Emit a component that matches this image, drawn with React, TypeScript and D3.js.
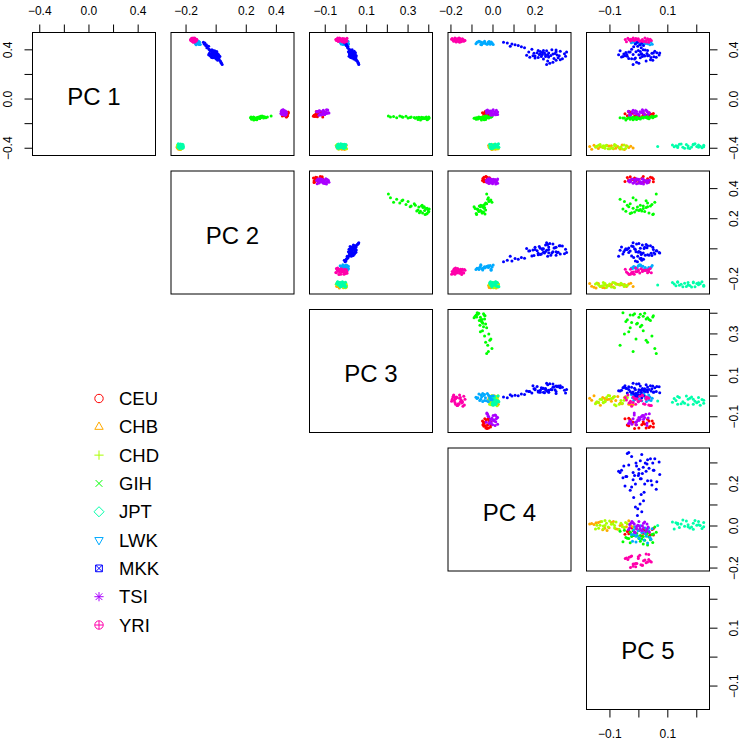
import React from "react";
import * as d3 from "d3";

// ---------- data ----------
const POPS = ["CEU", "CHB", "CHD", "GIH", "JPT", "LWK", "MKK", "TSI", "YRI"];
const COLORS = ["#FF0000", "#FFAA00", "#AAFF00", "#00FF00", "#00FFAA", "#00AAFF", "#0000FF", "#AA00FF", "#FF00AA"];
const VAR_LABELS = ["PC 1", "PC 2", "PC 3", "PC 4", "PC 5"];
const DOMAINS: [number, number][] = [
  [-0.459, 0.541],
  [-0.3, 0.517],
  [-0.176, 0.418],
  [-0.214, 0.371],
  [-0.181, 0.244],
];
const TICKS = [
  [-0.4, -0.2, 0, 0.2, 0.4],
  [-0.2, 0, 0.2, 0.4],
  [-0.1, 0, 0.1, 0.2, 0.3, 0.4],
  [-0.2, -0.1, 0, 0.1, 0.2, 0.3],
  [-0.1, 0, 0.1, 0.2],
];
const TOP_LABELS = [
  [-0.4, 0, 0.4],
  [-0.2, 0.2, 0.4],
  [-0.1, 0.1, 0.3],
  [-0.2, 0, 0.2],
  [-0.1, 0.1],
];
const RIGHT_LABELS = [
  [-0.4, 0, 0.4],
  [-0.2, 0.2, 0.4],
  [-0.1, 0.1, 0.3],
  [-0.2, 0, 0.2],
  [-0.1, 0.1],
];

// each row: [PC1, PC2, PC3, PC4, PC5]
const CEU = [
  [-0.144, 0.468, -0.138, -0.048, 0.01], [-0.113, 0.462, -0.124, -0.01, -0.025], [-0.131, 0.45, -0.154, -0.034, 0.025],
  [-0.104, 0.458, -0.107, -0.021, -0.035], [-0.122, 0.476, -0.146, -0.043, 0.04], [-0.139, 0.47, -0.157, -0.028, -0.015],
  [-0.128, 0.442, -0.132, -0.015, 0.015], [-0.111, 0.454, -0.121, -0.05, 0.035], [-0.135, 0.474, -0.14, -0.026, -0.04],
  [-0.12, 0.448, -0.11, -0.039, -0.048], [-0.142, 0.464, -0.149, -0.012, 0.05], [-0.106, 0.478, -0.115, -0.032, -0.03],
  [-0.126, 0.452, -0.135, -0.019, 0.02], [-0.115, 0.46, -0.126, -0.045, -0.02], [-0.133, 0.444, -0.152, -0.03, 0.035],
  [-0.124, 0.472, -0.121, -0.017, 0.046], [-0.102, 0.456, -0.143, -0.037, -0.035], [-0.146, 0.466, -0.112, -0.023, 0.03],
  [-0.117, 0.446, -0.132, -0.043, 0.05], [-0.133, 0.45, -0.138, -0.01, -0.01], [-0.111, 0.48, -0.124, -0.034, 0.015],
  [-0.137, 0.44, -0.154, -0.021, 0.0],
];
const CHB = [
  [-0.38, -0.251, -0.01, -0.003, -0.043], [-0.402, -0.231, -0.03, 0.017, -0.14], [-0.386, -0.235, -0.002, -0.016, -0.073],
  [-0.408, -0.248, -0.02, 0.012, -0.163], [-0.374, -0.239, -0.037, 0.005, -0.058], [-0.396, -0.258, -0.012, -0.011, -0.118],
  [-0.384, -0.228, -0.042, 0.0, -0.028], [-0.404, -0.253, -0.005, 0.022, -0.088], [-0.39, -0.26, -0.032, 0.015, -0.148],
  [-0.378, -0.244, -0.017, -0.021, -0.11], [-0.41, -0.237, -0.007, -0.006, -0.05], [-0.388, -0.249, -0.045, 0.02, -0.133],
  [-0.4, -0.23, -0.022, -0.013, -0.08], [-0.376, -0.255, 0.001, 0.007, -0.155], [-0.394, -0.233, -0.04, 0.025, -0.035],
  [-0.382, -0.246, -0.015, -0.008, -0.103], [-0.406, -0.24, -0.035, 0.002, -0.065], [-0.392, -0.257, -0.007, -0.018, -0.125],
  [-0.38, -0.237, -0.025, 0.017, -0.095], [-0.398, -0.251, -0.042, -0.003, -0.02], [-0.386, -0.231, -0.01, 0.01, -0.17],
];
const CHD = [
  [-0.4, -0.224, -0.01, 0.011, -0.09], [-0.38, -0.244, -0.03, -0.014, -0.123], [-0.404, -0.233, 0.001, 0.024, -0.101],
  [-0.374, -0.251, -0.02, -0.007, -0.051], [-0.396, -0.238, -0.04, -0.016, -0.068], [-0.384, -0.227, -0.027, 0.004, -0.145],
  [-0.376, -0.256, -0.007, 0.013, -0.112], [-0.406, -0.236, -0.035, -0.003, -0.057], [-0.388, -0.247, -0.017, 0.022, -0.128],
  [-0.37, -0.226, -0.042, -0.009, -0.084], [-0.402, -0.242, -0.002, 0.017, -0.046], [-0.382, -0.231, -0.025, 0.002, -0.117],
  [-0.398, -0.253, -0.012, 0.008, -0.095], [-0.376, -0.24, -0.032, -0.011, -0.139], [-0.39, -0.229, -0.022, 0.013, -0.062],
  [-0.404, -0.245, 0.003, -0.005, -0.106], [-0.378, -0.235, -0.047, 0.019, -0.079], [-0.37, -0.251, -0.015, 0.004, -0.134],
  [-0.394, -0.224, -0.032, 0.0, -0.123], [-0.384, -0.244, -0.007, 0.011, -0.04], [-0.39, -0.233, -0.037, -0.014, -0.15],
  [-0.38, -0.258, -0.002, 0.002, -0.084], [-0.4, -0.238, -0.027, 0.026, -0.117],
];
const GIH = [
  [-0.158, 0.255, 0.38, -0.06, 0.0], [-0.15, 0.275, 0.372, -0.04, 0.025], [-0.165, 0.235, 0.392, -0.08, -0.03],
  [-0.148, 0.285, 0.365, -0.065, 0.04], [-0.16, 0.245, 0.398, -0.045, -0.015], [-0.155, 0.268, 0.385, -0.085, 0.015],
  [-0.17, 0.25, 0.36, -0.055, -0.045], [-0.145, 0.232, 0.388, -0.038, 0.05], [-0.162, 0.262, 0.395, -0.072, 0.005],
  [-0.152, 0.24, 0.355, -0.05, -0.025], [-0.157, 0.28, 0.378, -0.09, 0.03], [-0.166, 0.258, 0.348, -0.035, -0.008],
  [-0.147, 0.248, 0.4, -0.068, 0.02], [-0.159, 0.29, 0.368, -0.058, -0.04], [-0.153, 0.228, 0.382, -0.078, 0.048],
  [-0.168, 0.27, 0.392, -0.042, -0.02], [-0.151, 0.252, 0.342, -0.062, 0.01], [-0.161, 0.238, 0.37, -0.052, 0.035],
  [-0.154, 0.265, 0.402, -0.075, -0.055], [-0.149, 0.278, 0.352, -0.048, -0.005], [-0.15, 0.3, 0.33, -0.03, -0.03],
  [-0.145, 0.285, 0.315, -0.05, 0.015], [-0.155, 0.315, 0.3, -0.02, -0.05], [-0.14, 0.295, 0.29, -0.04, 0.045],
  [-0.148, 0.325, 0.275, -0.01, -0.01], [-0.138, 0.305, 0.26, -0.035, 0.03], [-0.152, 0.33, 0.245, -0.025, -0.065],
  [-0.142, 0.31, 0.23, -0.005, 0.055], [-0.146, 0.34, 0.215, -0.022, -0.02], [-0.137, 0.365, 0.205, -0.03, 0.06],
  [-0.156, 0.29, 0.335, -0.045, 0.005], [-0.143, 0.32, 0.27, -0.015, 0.025], [-0.15, 0.28, 0.31, -0.06, -0.035],
];
const JPT = [
  [-0.381, -0.24, -0.015, 0.006, 0.17], [-0.392, -0.226, -0.027, 0.021, 0.206], [-0.368, -0.242, -0.007, -0.007, 0.14],
  [-0.372, -0.22, -0.04, 0.013, 0.188], [-0.387, -0.234, -0.012, -0.014, 0.122], [-0.376, -0.248, -0.02, 0.017, 0.224],
  [-0.401, -0.228, -0.035, -0.001, 0.158], [-0.363, -0.252, -0.025, 0.026, 0.194], [-0.394, -0.222, -0.002, 0.008, 0.134],
  [-0.403, -0.244, -0.01, -0.009, 0.176], [-0.383, -0.232, -0.045, 0.002, 0.212], [-0.374, -0.224, -0.03, 0.019, 0.116],
  [-0.39, -0.254, -0.005, -0.005, 0.182], [-0.365, -0.236, -0.037, 0.01, 0.146], [-0.396, -0.218, -0.017, -0.012, 0.218],
  [-0.37, -0.25, 0.0, 0.024, 0.164], [-0.385, -0.23, -0.032, 0.004, 0.2], [-0.379, -0.246, -0.022, 0.015, 0.128],
  [-0.398, -0.224, -0.042, -0.003, 0.17], [-0.374, -0.238, -0.007, 0.006, 0.206], [-0.392, -0.252, -0.027, 0.028, 0.152],
  [-0.368, -0.226, -0.015, -0.016, 0.188], [-0.383, -0.218, -0.04, 0.013, 0.134], [-0.387, -0.242, -0.035, -0.003, 0.224],
  [-0.385, -0.24, -0.024, 0.002, 0.065],
];
const LWK = [
  [0.452, -0.124, -0.008, -0.036, 0.022], [0.463, -0.111, 0.005, -0.058, 0.002], [0.451, -0.135, -0.019, -0.009, 0.034],
  [0.467, -0.119, -0.001, -0.018, -0.018], [0.457, -0.14, -0.026, -0.049, 0.026], [0.446, -0.115, 0.012, -0.027, 0.014],
  [0.461, -0.129, -0.012, -0.076, -0.01], [0.443, -0.108, 0.001, 0.001, 0.006], [0.466, -0.122, -0.021, -0.063, 0.042],
  [0.449, -0.137, -0.006, -0.081, 0.03], [0.458, -0.128, 0.007, -0.04, -0.026], [0.464, -0.113, -0.028, -0.022, -0.002],
  [0.442, -0.133, -0.004, -0.054, 0.038], [0.455, -0.12, -0.017, -0.004, -0.014], [0.469, -0.138, 0.01, -0.067, 0.018],
  [0.445, -0.11, -0.01, -0.013, 0.046], [0.46, -0.126, 0.003, -0.045, -0.006], [0.448, -0.117, -0.023, -0.031, 0.01],
  [0.464, -0.131, -0.008, -0.072, -0.022], [0.454, -0.124, 0.005, -0.022, 0.034], [0.443, -0.106, -0.015, -0.058, 0.002],
  [0.463, -0.142, -0.001, -0.009, 0.022], [0.469, -0.119, -0.021, -0.04, -0.018], [0.451, -0.131, 0.012, -0.049, -0.01],
];
const MKK = [
  [0.36, -0.018, 0.03, 0.25, 0.0], [0.395, -0.04, 0.02, 0.215, 0.03], [0.33, 0.005, 0.045, 0.29, -0.035],
  [0.375, -0.005, 0.018, 0.265, 0.05], [0.345, -0.035, 0.04, 0.23, -0.055], [0.385, -0.02, 0.012, 0.3, -0.01],
  [0.35, 0.01, 0.035, 0.2, 0.02], [0.405, -0.048, 0.015, 0.185, -0.025], [0.32, 0.02, 0.05, 0.32, 0.04],
  [0.368, -0.032, 0.028, 0.34, 0.01], [0.34, -0.012, 0.022, 0.175, 0.06], [0.378, 0.0, 0.038, 0.235, -0.045],
  [0.355, -0.042, 0.032, 0.275, 0.035], [0.392, -0.01, 0.025, 0.255, -0.065], [0.335, -0.022, 0.048, 0.31, 0.005],
  [0.362, 0.015, 0.02, 0.22, -0.02], [0.31, 0.028, 0.055, 0.26, 0.025], [0.372, -0.045, 0.035, 0.195, 0.045],
  [0.348, -0.002, 0.015, 0.345, -0.04], [0.4, -0.028, 0.03, 0.28, 0.015], [0.325, 0.0, 0.038, 0.24, -0.015],
  [0.358, -0.025, 0.045, 0.305, 0.07], [0.382, -0.015, 0.022, 0.17, -0.03], [0.342, 0.012, 0.028, 0.265, -0.06],
  [0.365, -0.038, 0.018, 0.225, 0.008], [0.3, 0.032, 0.058, 0.285, -0.008], [0.388, -0.035, 0.04, 0.32, 0.055],
  [0.352, -0.008, 0.05, 0.19, -0.048], [0.37, 0.008, 0.03, 0.295, 0.028], [0.338, -0.03, 0.025, 0.215, 0.042],
  [0.395, -0.022, 0.018, 0.24, -0.002], [0.328, 0.018, 0.042, 0.33, -0.025], [0.36, -0.05, 0.026, 0.26, -0.07],
  [0.376, -0.012, 0.046, 0.21, 0.062], [0.346, 0.025, 0.036, 0.25, 0.012], [0.315, 0.01, 0.048, 0.3, 0.048],
  [0.382, -0.025, 0.032, 0.35, -0.035], [0.356, 0.002, 0.024, 0.16, 0.018], [0.29, 0.035, 0.06, 0.27, 0.0],
  [0.366, -0.02, 0.042, 0.285, -0.052], [0.398, -0.042, 0.022, 0.3, 0.022], [0.334, -0.005, 0.03, 0.2, -0.012],
  [0.374, -0.028, 0.016, 0.245, 0.072], [0.352, 0.02, 0.044, 0.315, 0.03], [0.28, 0.04, 0.062, 0.255, -0.02],
  [0.362, -0.004, 0.036, 0.235, -0.042], [0.344, -0.026, 0.02, 0.265, 0.052], [0.386, 0.004, 0.028, 0.225, 0.005],
  [0.462, -0.085, -0.004, 0.05, -0.005], [0.455, -0.075, -0.008, 0.068, 0.01], [0.448, -0.08, 0.0, 0.09, -0.012],
  [0.442, -0.065, 0.004, 0.105, 0.004], [0.435, -0.07, 0.002, 0.12, 0.016], [0.425, -0.058, 0.01, 0.135, -0.018],
  [0.418, -0.062, 0.008, 0.15, 0.008], [0.43, -0.05, 0.006, 0.082, -0.004],
];
const TSI = [
  [-0.103, 0.448, -0.112, -0.011, 0.004], [-0.114, 0.46, -0.091, 0.01, -0.016], [-0.097, 0.438, -0.13, -0.014, 0.028],
  [-0.125, 0.454, -0.103, 0.019, 0.02], [-0.101, 0.432, -0.139, -0.002, -0.008], [-0.108, 0.466, -0.097, -0.023, 0.012],
  [-0.121, 0.444, -0.121, 0.007, -0.032], [-0.112, 0.456, -0.085, -0.029, 0.036], [-0.092, 0.436, -0.109, 0.016, -0.02],
  [-0.099, 0.45, -0.133, -0.017, -0.036], [-0.13, 0.462, -0.118, 0.001, 0.0], [-0.117, 0.43, -0.094, 0.013, 0.016],
  [-0.095, 0.452, -0.127, -0.032, -0.012], [-0.123, 0.44, -0.106, -0.005, 0.032], [-0.106, 0.464, -0.136, 0.022, -0.024],
  [-0.09, 0.446, -0.088, -0.026, 0.024], [-0.119, 0.458, -0.115, 0.004, -0.004], [-0.11, 0.434, -0.1, -0.02, 0.008],
  [-0.128, 0.448, -0.124, 0.013, -0.028], [-0.097, 0.46, -0.112, -0.008, 0.016], [-0.114, 0.442, -0.082, -0.029, -0.016],
  [-0.103, 0.454, -0.142, 0.01, 0.028], [-0.125, 0.436, -0.103, 0.022, 0.0], [-0.121, 0.466, -0.124, -0.014, -0.008],
  [-0.088, 0.444, -0.094, 0.001, 0.012], [-0.132, 0.456, -0.13, -0.008, -0.032],
];
const YRI = [
  [0.48, -0.148, -0.028, -0.155, -0.002], [0.491, -0.159, -0.007, -0.171, 0.03], [0.471, -0.135, -0.031, -0.146, -0.029],
  [0.485, -0.139, 0.002, -0.187, 0.012], [0.466, -0.154, -0.019, -0.152, -0.043], [0.496, -0.143, -0.04, -0.162, 0.021],
  [0.476, -0.168, -0.01, -0.181, -0.016], [0.487, -0.13, -0.046, -0.168, 0.039], [0.469, -0.161, -0.001, -0.139, 0.003],
  [0.482, -0.17, -0.034, -0.149, -0.034], [0.493, -0.15, -0.016, -0.194, -0.011], [0.464, -0.141, -0.004, -0.175, 0.025],
  [0.484, -0.157, -0.049, -0.143, -0.025], [0.473, -0.132, -0.022, -0.184, 0.007], [0.494, -0.163, 0.005, -0.159, -0.038],
  [0.478, -0.137, -0.043, -0.136, 0.034], [0.489, -0.152, -0.013, -0.178, -0.007], [0.467, -0.146, -0.037, -0.165, 0.016],
  [0.48, -0.165, -0.004, -0.191, -0.02], [0.491, -0.141, -0.025, -0.146, -0.002], [0.475, -0.159, -0.046, -0.171, 0.043],
  [0.485, -0.135, -0.007, -0.155, -0.047], [0.469, -0.15, 0.005, -0.187, 0.012], [0.496, -0.154, -0.031, -0.181, -0.02],
  [0.476, -0.143, -0.016, -0.133, 0.025], [0.487, -0.168, -0.025, -0.197, -0.029], [0.462, -0.152, -0.01, -0.159, 0.034],
  [0.482, -0.128, -0.04, -0.178, -0.011],
];
const POP_DATA = [CEU, CHB, CHD, GIH, JPT, LWK, MKK, TSI, YRI];

// ---------- layout ----------
const ORIGIN = 32.5;
const PITCH = 138.5;
const SIZE = 123;
const FONT = "'Liberation Sans', Arial, Helvetica, sans-serif";
const fmt = (v: number) => d3.format(".1f")(v).replace("-", "\u2212");

function xScale(j: number) {
  const l = ORIGIN + PITCH * j;
  return d3.scaleLinear().domain(DOMAINS[j]).range([l, l + SIZE]);
}
function yScale(i: number) {
  const t = ORIGIN + PITCH * i;
  return d3.scaleLinear().domain(DOMAINS[i]).range([t + SIZE, t]);
}

function Marker({ k, color }: { k: number; color: string }) {
  const p = { fill: "none", stroke: color, strokeWidth: 1 };
  const s = 4.2;
  switch (k) {
    case 0:
      return <circle r={s} {...p} />;
    case 1:
      return <path d={`M0,${-s * 1.15}L${s},${s * 0.6}L${-s},${s * 0.6}Z`} {...p} />;
    case 2:
      return <path d={`M${-s * 1.1},0H${s * 1.1}M0,${-s * 1.1}V${s * 1.1}`} {...p} />;
    case 3:
      return <path d={`M${-s * 0.8},${-s * 0.8}L${s * 0.8},${s * 0.8}M${-s * 0.8},${s * 0.8}L${s * 0.8},${-s * 0.8}`} {...p} />;
    case 4:
      return <path d={`M0,${-s * 1.2}L${s * 1.2},0L0,${s * 1.2}L${-s * 1.2},0Z`} {...p} />;
    case 5:
      return <path d={`M0,${s * 1.15}L${s},${-s * 0.6}L${-s},${-s * 0.6}Z`} {...p} />;
    case 6:
      return (
        <path
          d={`M${-s * 0.8},${-s * 0.8}H${s * 0.8}V${s * 0.8}H${-s * 0.8}ZM${-s * 0.8},${-s * 0.8}L${s * 0.8},${s * 0.8}M${-s * 0.8},${s * 0.8}L${s * 0.8},${-s * 0.8}`}
          {...p}
        />
      );
    case 7:
      return (
        <path
          d={`M${-s * 1.1},0H${s * 1.1}M0,${-s * 1.1}V${s * 1.1}M${-s * 0.8},${-s * 0.8}L${s * 0.8},${s * 0.8}M${-s * 0.8},${s * 0.8}L${s * 0.8},${-s * 0.8}`}
          {...p}
        />
      );
    default:
      return (
        <g>
          <circle r={s} {...p} />
          <path d={`M${-s},0H${s}M0,${-s}V${s}`} {...p} />
        </g>
      );
  }
}

export default function App() {
  const panels: JSX.Element[] = [];
  for (let i = 0; i < 5; i++) {
    for (let j = 0; j < 5; j++) {
      if (j < i) continue;
      const l = ORIGIN + PITCH * j;
      const t = ORIGIN + PITCH * i;
      const key = `p${i}-${j}`;
      if (i === j) {
        panels.push(
          <g key={key}>
            <text x={l + SIZE / 2} y={t + SIZE / 2 + 11} textAnchor="middle" fontSize={24} fontFamily={FONT} fill="#000">
              {VAR_LABELS[i]}
            </text>
          </g>
        );
      } else {
        const xs = xScale(j);
        const ys = yScale(i);
        panels.push(
          <g key={key}>
            {POP_DATA.map((rows, k) =>
              rows.map((r, n) => (
                <circle key={`${k}-${n}`} cx={xs(r[j])} cy={ys(r[i])} r={1.5} fill={COLORS[k]} />
              ))
            )}
          </g>
        );
      }
      panels.push(
        <rect key={key + "b"} x={l} y={t} width={SIZE} height={SIZE} fill="none" stroke="#000" strokeWidth={1} />
      );
    }
  }

  const axes: JSX.Element[] = [];
  for (let j = 0; j < 5; j++) {
    const xs = xScale(j);
    const y0 = ORIGIN;
    axes.push(
      <g key={`top${j}`}>
        {TICKS[j].map((v) => (
          <line key={v} x1={xs(v)} x2={xs(v)} y1={y0} y2={y0 - 8} stroke="#000" />
        ))}
        {TOP_LABELS[j].map((v) => (
          <text key={"l" + v} x={xs(v)} y={15} textAnchor="middle" fontSize={12} fontFamily={FONT}>
            {fmt(v)}
          </text>
        ))}
      </g>
    );
  }
  const xr = ORIGIN + PITCH * 4 + SIZE;
  for (let i = 0; i < 5; i++) {
    const ys = yScale(i);
    axes.push(
      <g key={`right${i}`}>
        {TICKS[i].map((v) => (
          <line key={v} x1={xr} x2={xr + 8} y1={ys(v)} y2={ys(v)} stroke="#000" />
        ))}
        {RIGHT_LABELS[i].map((v) => (
          <text
            key={"l" + v}
            transform={`translate(${xr + 28},${ys(v)}) rotate(-90)`}
            textAnchor="middle"
            fontSize={12}
            fontFamily={FONT}
          >
            {fmt(v)}
          </text>
        ))}
      </g>
    );
  }
  {
    const ys = yScale(0);
    axes.push(
      <g key="left0">
        {TICKS[0].map((v) => (
          <line key={v} x1={ORIGIN} x2={ORIGIN - 8} y1={ys(v)} y2={ys(v)} stroke="#000" />
        ))}
        {RIGHT_LABELS[0].map((v) => (
          <text
            key={"l" + v}
            transform={`translate(${12},${ys(v)}) rotate(-90)`}
            textAnchor="middle"
            fontSize={12}
            fontFamily={FONT}
          >
            {fmt(v)}
          </text>
        ))}
      </g>
    );
  }
  {
    const xs = xScale(4);
    const yb = ORIGIN + PITCH * 4 + SIZE;
    axes.push(
      <g key="bottom4">
        {TICKS[4].map((v) => (
          <line key={v} x1={xs(v)} x2={xs(v)} y1={yb} y2={yb + 8} stroke="#000" />
        ))}
        {TOP_LABELS[4].map((v) => (
          <text key={"l" + v} x={xs(v)} y={yb + 28.5} textAnchor="middle" fontSize={12} fontFamily={FONT}>
            {fmt(v)}
          </text>
        ))}
      </g>
    );
  }

  const legendY = d3.scaleLinear().domain([0, 8]).range([398.5, 625]);

  return (
    <svg
      width={743}
      height={743}
      viewBox="0 0 743 743"
      style={{ position: "absolute", left: 0, top: 0, background: "#fff" }}
    >
      <rect x={0} y={0} width={743} height={743} fill="#fff" />
      {panels}
      {axes}
      <g>
        {POPS.map((p, k) => (
          <g key={p} transform={`translate(0,${legendY(k)})`}>
            <g transform="translate(99,0)">
              <Marker k={k} color={COLORS[k]} />
            </g>
            <text x={119} y={6.6} fontSize={18.5} fontFamily={FONT} fill="#000">
              {p}
            </text>
          </g>
        ))}
      </g>
    </svg>
  );
}
